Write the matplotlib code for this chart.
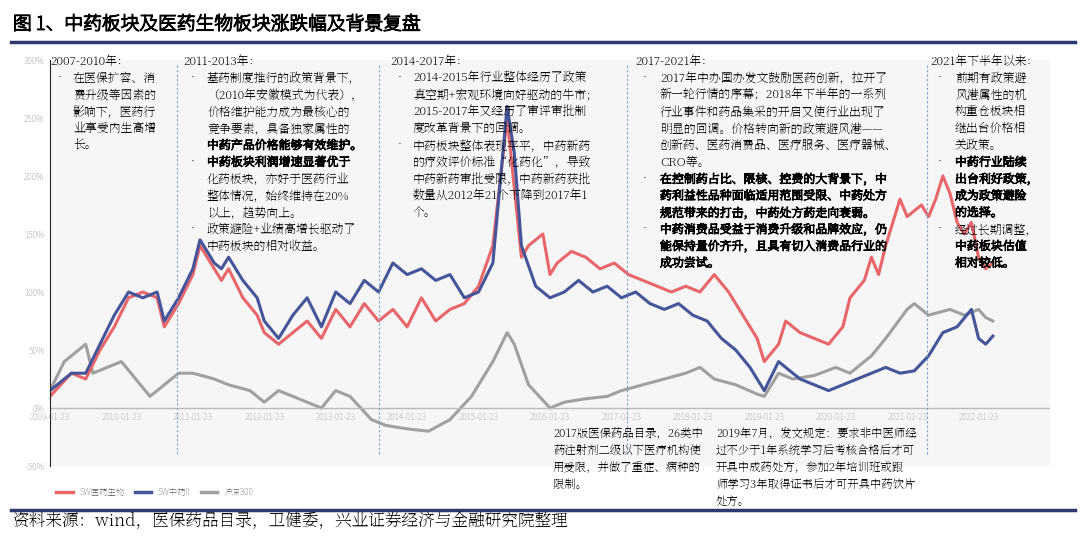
import matplotlib
matplotlib.use("Agg")
import matplotlib.pyplot as plt
from matplotlib.lines import Line2D
import matplotlib.font_manager as fm
import matplotlib.patheffects as pe

avail = set(f.name for f in fm.fontManager.ttflist)
fams = [f for f in ["Noto Serif SC", "Noto Serif CJK SC", "Noto Sans SC", "Noto Sans CJK SC", "DejaVu Sans"] if f in avail]
plt.rcParams["font.family"] = fams
sans = [f for f in ["Noto Sans SC", "Noto Sans CJK SC", "DejaVu Sans"] if f in avail]
BOLD = [pe.withStroke(linewidth=0.7, foreground="black")]

# time in years since 2009-01-23
red_t = [0.0,0.3,0.5,0.7,0.9,1.1,1.3,1.5,1.6,1.8,2.0,2.1,2.3,2.4,2.5,2.7,2.9,3.0,3.2,3.4,3.6,3.8,4.0,4.2,4.4,4.6,4.8,5.0,5.2,5.4,5.6,5.8,6.0,6.2,6.4,6.5,6.6,6.7,6.9,7.0,7.1,7.3,7.5,7.7,7.9,8.1,8.3,8.5,8.7,8.9,9.1,9.3,9.5,9.7,9.9,10.0,10.2,10.3,10.5,10.7,10.9,11.1,11.2,11.4,11.5,11.6,11.7,11.9,12.0,12.2,12.3,12.4,12.5,12.6,12.7,12.8,12.9,13.0,13.1,13.2]
red_v = [10,30,25,50,70,95,100,95,70,90,115,140,120,110,120,95,80,65,55,65,75,60,85,70,90,75,85,70,95,75,85,90,105,140,250,190,130,140,150,115,125,135,130,120,125,115,110,105,100,105,100,115,100,80,60,40,55,75,65,60,55,70,95,110,130,115,140,180,165,175,165,180,200,185,160,150,160,130,120,125]
blue_t = [0.0,0.3,0.5,0.7,0.9,1.1,1.3,1.5,1.6,1.8,2.0,2.1,2.3,2.4,2.5,2.7,2.9,3.0,3.2,3.4,3.6,3.8,4.0,4.2,4.4,4.6,4.8,5.0,5.2,5.4,5.6,5.8,6.0,6.2,6.4,6.5,6.6,6.8,7.0,7.2,7.4,7.6,7.8,8.0,8.2,8.4,8.6,8.8,9.0,9.2,9.4,9.6,9.8,10.0,10.2,10.4,10.5,10.7,10.9,11.1,11.3,11.5,11.7,11.9,12.1,12.3,12.5,12.7,12.9,13.0,13.1,13.2]
blue_v = [15,30,30,55,80,100,95,100,75,95,120,145,125,120,130,110,95,75,60,80,95,70,100,90,110,100,125,115,120,110,115,95,100,125,260,220,140,105,95,100,110,100,105,95,100,90,85,90,80,75,60,50,35,15,40,30,25,20,15,20,25,30,35,30,32,45,65,70,85,60,55,62]
gray_t = [0.0,0.2,0.5,0.6,0.8,1.0,1.2,1.4,1.6,1.8,2.0,2.3,2.5,2.8,3.0,3.2,3.4,3.6,3.8,4.0,4.2,4.5,4.7,5.0,5.3,5.6,5.9,6.2,6.4,6.5,6.7,7.0,7.2,7.5,7.8,8.0,8.3,8.6,8.9,9.1,9.3,9.6,9.9,10.0,10.2,10.4,10.7,11.0,11.2,11.5,11.7,12.0,12.1,12.3,12.6,12.8,13.0,13.1,13.2]
gray_v = [15,40,55,30,35,40,25,10,20,30,30,25,20,15,5,15,10,5,0,15,10,-10,-15,-18,-20,-10,10,40,65,55,20,0,5,8,10,15,20,25,30,35,25,20,12,10,30,25,28,35,30,45,60,85,90,80,85,80,85,78,75]
year_ticks = list(range(0, 14))
tick_labels = [f"{2009+i}-01-23" for i in year_ticks]
series_names = ["SW医药生物", "SW中药II", "沪深300"]
vlines = [1.78, 4.61, 8.08, 12.28]

fig = plt.figure(figsize=(10.8, 5.38), dpi=100)
ax = fig.add_axes([50/1080, 72/538, 1000/1080, 406/538])
ax.set_facecolor("#f6f6f6")
ax.plot(gray_t, gray_v, color="#a0a0a0", lw=2.2)
ax.plot(red_t, red_v, color="#e8666a", lw=2.2)
ax.plot(blue_t, blue_v, color="#44559a", lw=2.2)
ax.set_xlim(0, 14)
ax.set_ylim(-50, 300)
ax.axhline(0, color="#bbbbbb", lw=1)
for v in vlines:
    ax.axvline(v, ymin=(-40+50)/350, ymax=0.99, color="#7aa0c8", lw=0.8, ls=(0, (2, 2)))
for s in ["top", "right", "bottom"]:
    ax.spines[s].set_visible(False)
ax.spines["left"].set_color("#222222")
yt = [-50, 0, 50, 100, 150, 200, 250, 300]
ax.set_yticks(yt)
ax.set_yticklabels([f"{v}%" for v in yt], fontsize=6, color="#888888", family=sans)
ax.tick_params(axis="y", length=0, pad=4)
ax.set_xticks([])
for x, lab in zip(year_ticks, tick_labels):
    ax.text(x, -4, lab, fontsize=6, color="#999999", ha="center", va="top", family=sans)

fig.text(0.012, 0.955, "图 1、中药板块及医药生物板块涨跌幅及背景复盘", fontsize=13.5, va="center", family=sans,
         path_effects=[pe.withStroke(linewidth=1.0, foreground="black")])
fig.add_artist(Line2D([0.01, 0.995], [0.922, 0.922], color="#2e3a6e", lw=2.5))
fig.add_artist(Line2D([0.01, 0.995], [0.052, 0.052], color="#2e3a6e", lw=2.5))
fig.text(0.012, 0.032, "资料来源：wind，医保药品目录，卫健委，兴业证券经济与金融研究院整理", fontsize=12, va="center")

handles = [Line2D([], [], color=c, lw=2.5) for c in ["#e8666a", "#44559a", "#a0a0a0"]]
fig.legend(handles, series_names, loc="center left", bbox_to_anchor=(0.045, 1 - 492/538), ncol=3,
           frameon=False, handlelength=2, columnspacing=1.2, labelcolor="#666666",
           prop=fm.FontProperties(family=sans, size=6))

FS = 8.6
LH = 16.8
def block(x0, y0, header, lines, bullets=(), bolds=(), xt=None):
    fig.text(x0/1080, 1 - y0/538, header, fontsize=FS, va="center")
    for i, ln in enumerate(lines):
        y = y0 + LH*(i+1)
        if i in bullets:
            fig.text((x0+4)/1080, 1 - y/538, "•", fontsize=FS, va="center")
        fig.text(xt/1080, 1 - y/538, ln, fontsize=FS, va="center",
                 path_effects=BOLD if i in bolds else None)

block(50, 62, "2007-2010年：", ["在医保扩容、消", "费升级等因素的", "影响下，医药行", "业享受内生高增", "长。"], bullets=(0,), xt=73)
block(183, 62, "2011-2013年：", ["基药制度推行的政策背景下，", "（2010年安徽模式为代表），", "价格维护能力成为最核心的",
      "竞争要素，具备独家属性的", "中药产品价格能够有效维护。", "中药板块利润增速显著优于", "化药板块，亦好于医药行业",
      "整体情况，始终维持在20%", "以上，趋势向上。", "政策避险+业绩高增长驱动了", "中药板块的相对收益。"],
      bullets=(0, 5, 9), bolds=(4, 5), xt=207)
block(390, 62, "2014-2017年：", ["2014-2015年行业整体经历了政策", "真空期+宏观环境向好驱动的牛市；", "2015-2017年又经历了审评审批制",
      "度改革背景下的回调。", "中药板块整体表现平平，中药新药", "的疗效评价标准“化药化”，导致",
      "中药新药审批受限，中药新药获批", "数量从2012年21个下降到2017年1", "个。"], bullets=(0, 4), xt=413)
block(635, 62, "2017-2021年：", ["2017年中办国办发文鼓励医药创新，拉开了", "新一轮行情的序幕；2018年下半年的一系列",
      "行业事件和药品集采的开启又使行业出现了", "明显的回调。价格转向新的政策避风港——", "创新药、医药消费品、医疗服务、医疗器械、",
      "CRO等。", "在控制药占比、限核、控费的大背景下，中", "药利益性品种面临适用范围受限、中药处方",
      "规范带来的打击，中药处方药走向衰弱。", "中药消费品受益于消费升级和品牌效应，仍", "能保持量价齐升，且具有切入消费品行业的", "成功尝试。"],
      bullets=(0, 6, 9), bolds=(6, 7, 8, 9, 10, 11), xt=660)
block(930, 62, "2021年下半年以来：", ["前期有政策避", "风港属性的机", "构重仓板块相", "继出台价格相", "关政策。", "中药行业陆续",
      "出台利好政策，", "成为政策避险", "的选择。", "经过长期调整，", "中药板块估值", "相对较低。"],
      bullets=(0, 5, 9), bolds=(5, 6, 7, 8, 10, 11), xt=955)

def note(x0, y0, lines):
    for i, ln in enumerate(lines):
        fig.text(x0/1080, 1 - (y0 + LH*i)/538, ln, fontsize=8.2, va="center")
note(553, 434, ["2017版医保药品目录，26类中", "药注射剂二级以下医疗机构使", "用受限，并做了重症、病种的", "限制。"])
note(716, 434, ["2019年7月，发文规定：要求非中医师经", "过不少于1年系统学习后考核合格后才可", "开具中成药处方，参加2年培训班或跟", "师学习3年取得证书后才可开具中药饮片", "处方。"])

fig.savefig("out.png", dpi=100)
